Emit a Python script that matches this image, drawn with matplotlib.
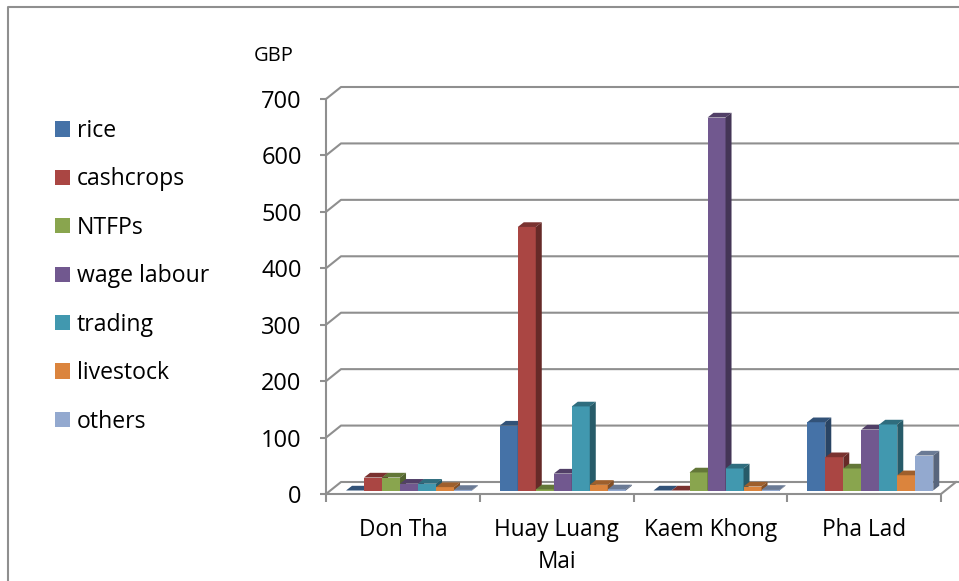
import matplotlib
matplotlib.use("Agg")
import numpy as np
import matplotlib.pyplot as plt
from matplotlib.patches import Polygon

villages = ["Don Tha", "Huay Luang\nMai", "Kaem Khong", "Pha Lad"]
rice = [0, 115, 0, 121]
cashcrops = [23, 467, 0, 59]
ntfps = [23, 2, 32, 39]
wage_labour = [12, 30, 661, 108]
trading = [12, 149, 39, 117]
livestock = [6, 10, 7, 27]
others = [1, 2, 1, 62]

names = ["rice", "cashcrops", "NTFPs", "wage labour", "trading", "livestock", "others"]
series = [rice, cashcrops, ntfps, wage_labour, trading, livestock, others]
colors = ["#4572a7", "#aa4643", "#89a54e", "#71588f", "#4198af", "#db843d", "#93a9cf"]
yticks = [0, 100, 200, 300, 400, 500, 600, 700]

W, H = 959, 581
GREY = "#8f8f8f"
plt.rcParams["font.family"] = ["Open Sans", "DejaVu Sans"]


def shade(c, f):
    return tuple(v * f for v in matplotlib.colors.to_rgb(c))


fig = plt.figure(figsize=(W / 100, H / 100), dpi=100)
left, right, y0, y700 = 326, 941, 494, 99
ax = fig.add_axes([left / W, 1 - y0 / H, (right - left) / W, (y0 - y700) / H])
ax.set_xlim(0, 4)
ax.set_ylim(0, 700)
for s in ax.spines.values():
    s.set_visible(False)

# pixel sizes in data units
px = 4 / (right - left)
py = 700 / (y0 - y700)
wall_dx, wall_dy = 15 * px, 12 * py
bar_w = 18 * px
bar_dx, bar_dy = 6 * px, 4.7 * py
base = 3.5 * py

# back wall / gridlines
for v in yticks:
    ax.plot([0, wall_dx, 4 + 18 * px], [v, v + wall_dy, v + wall_dy], color=GREY, lw=1.5,
            clip_on=False, zorder=1, solid_capstyle="butt")
ax.plot([0, 0], [0, 700], color=GREY, lw=1.5, clip_on=False, zorder=1)
ax.plot([0, 4, 4 + wall_dx], [0, 0, wall_dy], color=GREY, lw=1.5, clip_on=False, zorder=1)

x = np.arange(4)
handles = []
for j, (vals, c) in enumerate(zip(series, colors)):
    xs = x + 0.5 + 0.04 + (j - 3) * bar_w
    b = ax.bar(xs, vals, bar_w, bottom=base, color=c, label=names[j], zorder=3 + j, clip_on=False)
    handles.append(b)
    for xc, v in zip(xs, vals):
        l, r, t = xc - bar_w / 2, xc + bar_w / 2, base + v
        ax.add_patch(Polygon([(l, t), (r, t), (r + bar_dx, t + bar_dy), (l + bar_dx, t + bar_dy)],
                             color=shade(c, 0.72), zorder=3 + j, clip_on=False, lw=0))
        ax.add_patch(Polygon([(r, base), (r, t), (r + bar_dx, t + bar_dy), (r + bar_dx, base + bar_dy)],
                             color=shade(c, 0.6), zorder=3 + j, clip_on=False, lw=0))

ax.set_yticks(yticks)
ax.tick_params(axis="y", length=4.5, width=1.5, color=GREY, pad=13, labelsize=17, labelcolor="black")
ax.set_xticks([0, 1, 2, 3, 4])
ax.set_xticklabels([])
ax.set_xticks(x + 0.5, villages, minor=True)
ax.tick_params(axis="x", which="major", length=6, width=1.5, color=GREY)
ax.tick_params(axis="x", which="minor", length=0, pad=17, labelsize=16.3)
for lab in ax.get_xticklabels(minor=True):
    lab.set_linespacing(1.45)

fig.legend(handles=handles, labels=names, loc="upper left", bbox_to_anchor=(55 / W, 1 - 119 / H),
           frameon=False, fontsize=16.6, handlelength=0.65, handleheight=0.65, handletextpad=0.3,
           labelspacing=1.06, borderaxespad=0, borderpad=0)
fig.text(254 / W, 1 - 56 / H, "GBP", fontsize=14.5, va="center", ha="left")

# outer chart frame
fig.add_artist(plt.Line2D([8 / W, 8 / W, 1], [0, 1 - 7 / H, 1 - 7 / H], color=GREY, lw=1.5))

fig.savefig("out.png", dpi=100)
